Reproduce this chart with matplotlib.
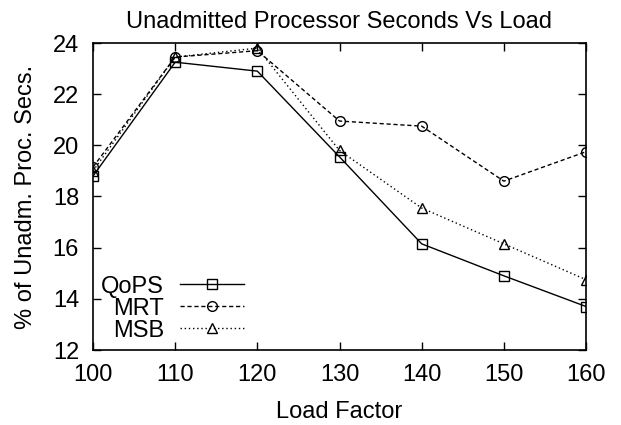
import matplotlib
matplotlib.use("Agg")
import matplotlib.pyplot as plt

plt.rcParams['font.family'] = ['Liberation Sans', 'DejaVu Sans']

load = [100, 110, 120, 130, 140, 150, 160]
qops = [18.8, 23.25, 22.9, 19.55, 16.15, 14.9, 13.7]
mrt = [19.15, 23.45, 23.7, 20.95, 20.75, 18.6, 19.75]
msb = [19.0, 23.45, 23.8, 19.8, 17.55, 16.15, 14.75]

fig = plt.figure(figsize=(6.21, 4.25), dpi=100)
ax = fig.add_axes([93/621, 1 - 350/425, (586-93)/621, (350-43)/425])

ms = 7
ax.plot(load, qops, color='black', lw=1.0, ls='-', marker='s', ms=ms, mfc='none', mew=1.0, label='QoPS')
ax.plot(load, mrt, color='black', lw=1.0, ls=(0, (3, 2)), marker='o', ms=ms, mfc='none', mew=1.0, label='MRT')
ax.plot(load, msb, color='black', lw=1.0, ls=(0, (1, 2)), marker='^', ms=ms, mfc='none', mew=1.0, label='MSB')

ax.set_xlim(100, 160)
ax.set_ylim(12, 24)
ax.set_xticks(load)
ax.set_yticks([12, 14, 16, 18, 20, 22, 24])
ax.tick_params(direction='in', top=True, right=True, labelsize=17, length=6, width=1)
ax.tick_params(axis='x', pad=10)
ax.tick_params(axis='y', pad=10)
for s in ax.spines.values():
    s.set_linewidth(1.2)

ax.set_title('Unadmitted Processor Seconds Vs Load', fontsize=17, pad=11)
ax.set_xlabel('Load Factor', fontsize=17, labelpad=11)
ax.set_ylabel('% of Unadm. Proc. Secs.', fontsize=17, labelpad=11)

leg = ax.legend(loc='lower left', bbox_to_anchor=(0.0, 0.0), frameon=False, markerfirst=False,
                fontsize=17, handlelength=2.7, handletextpad=0.68, labelspacing=0.0,
                borderaxespad=0.0, borderpad=0.35)

fig.savefig('out.png', dpi=100)
